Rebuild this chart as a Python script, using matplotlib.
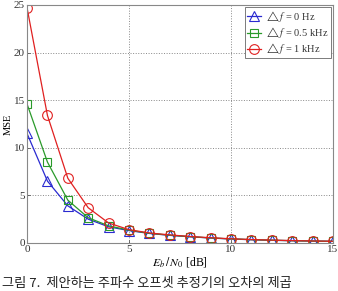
import matplotlib
matplotlib.use("Agg")
import matplotlib.pyplot as plt

plt.rcParams['font.family'] = ['Liberation Serif', 'DejaVu Serif']
plt.rcParams['mathtext.fontset'] = 'stix'

ebn0 = list(range(16))
mse_0hz = [11.5, 6.5, 3.9, 2.5, 1.7, 1.3, 1.0, 0.8, 0.65, 0.52, 0.42, 0.34, 0.28, 0.24, 0.2, 0.17]
mse_05khz = [14.6, 8.5, 4.5, 2.65, 1.8, 1.35, 1.02, 0.82, 0.66, 0.53, 0.43, 0.35, 0.29, 0.24, 0.2, 0.17]
mse_1khz = [24.7, 13.4, 6.8, 3.7, 2.1, 1.4, 1.05, 0.85, 0.68, 0.55, 0.44, 0.36, 0.3, 0.25, 0.21, 0.18]
labels = [r"$\triangle f$ = 0 Hz", r"$\triangle f$ = 0.5 kHz", r"$\triangle f$ = 1 kHz"]
xticks = [0, 5, 10, 15]
yticks = [0, 5, 10, 15, 20, 25]
caption = "그림 7.  제안하는 주파수 오프셋 추정기의 오차의 제곱"

fig = plt.figure(figsize=(3.38, 2.91), dpi=100)
ax = fig.add_axes([0.080, 0.165, 0.905, 0.818])

ax.plot(ebn0, mse_0hz, color='#2a2ad0', marker='^', mfc='none', ms=6.5, lw=0.9, mew=0.8, label=labels[0])
ax.plot(ebn0, mse_05khz, color='#2a9a2a', marker='s', mfc='none', ms=6, lw=0.9, mew=0.8, label=labels[1])
ax.plot(ebn0, mse_1khz, color='#e02020', marker='o', mfc='none', ms=7, lw=0.9, mew=0.8, label=labels[2])

ax.set_xlim(0, 15)
ax.set_ylim(0, 25)
ax.set_xticks(xticks)
ax.set_yticks(yticks)
ax.tick_params(labelsize=8, direction='in', length=2, width=0.5, colors='#333333', pad=1.5)
ax.grid(True, linestyle=':', color='#888888', linewidth=0.7)
for s in ax.spines.values():
    s.set_color('#888888')
    s.set_linewidth(0.8)

ax.set_xlabel(r"$E_b\,/\,N_0$ [dB]", fontsize=8.5, labelpad=1)
ax.set_ylabel("MSE", fontsize=7.5, labelpad=1)

leg = ax.legend(loc='upper right', fontsize=7.5, handlelength=1.4, handletextpad=0.4,
                borderpad=0.2, labelspacing=0.1, borderaxespad=0.2, fancybox=False, framealpha=1)
leg.get_frame().set_edgecolor('#666666')
leg.get_frame().set_linewidth(0.6)
for t in leg.get_texts():
    t.set_color('#333333')

fig.text(0.005, 0.004, caption, fontsize=9.5, va='bottom', ha='left',
         family=['Noto Sans CJK KR', 'DejaVu Sans'], color='#222222')

fig.savefig('out.png', dpi=100)
